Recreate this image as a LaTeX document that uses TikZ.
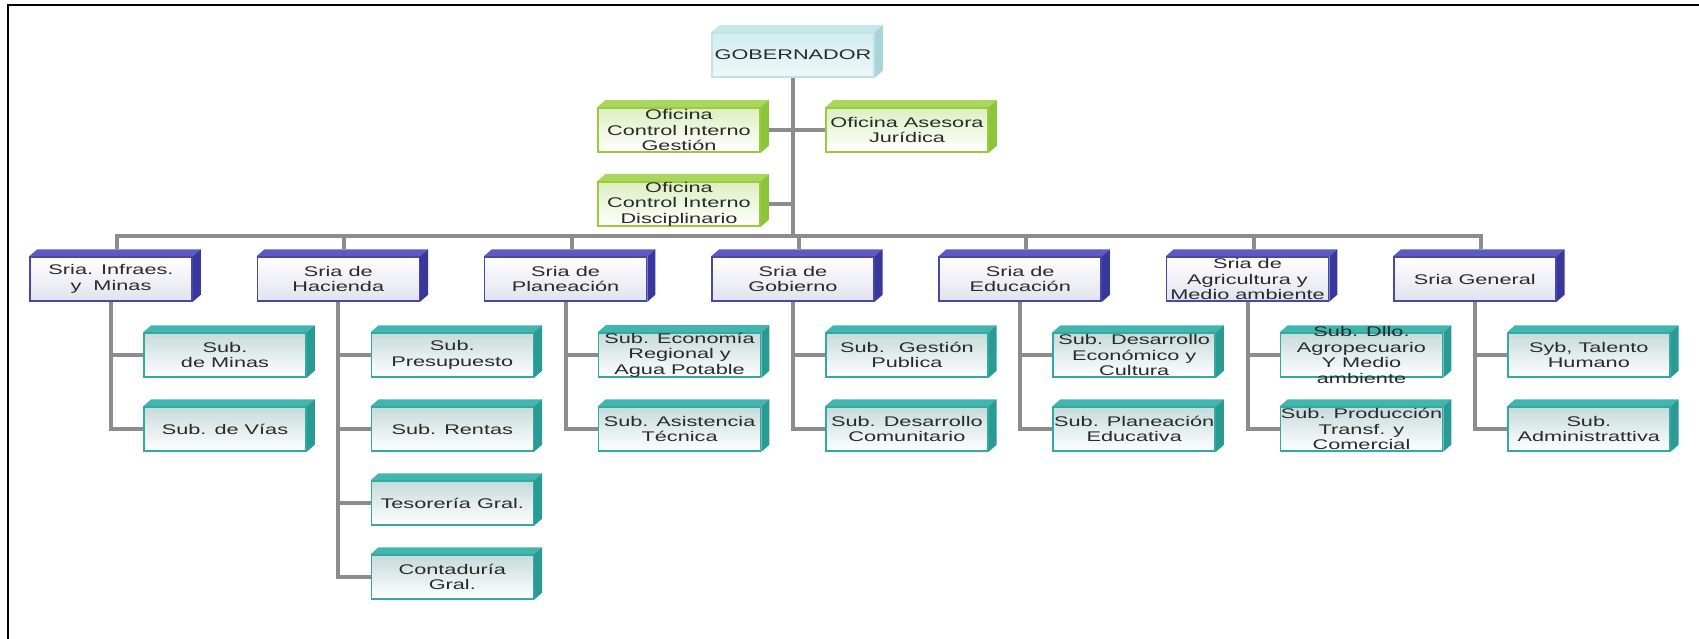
\documentclass[tikz,border=0pt]{standalone}
\usepackage{fontspec}
\newfontfamily\cajafont[FakeStretch=1.55]{Liberation Sans}
\usetikzlibrary{calc}
\pgfdeclarelayer{fondo}
\pgfdeclarelayer{caras}
\pgfsetlayers{fondo,caras,main}

\definecolor{gristexto}{HTML}{2A2A2A}
\definecolor{gris}{HTML}{8C8C8C}
\definecolor{cianborde}{HTML}{BFE3E7}
\definecolor{cianclaro}{HTML}{D3EDF0}
\definecolor{ciantop}{HTML}{C6E7EA}
\definecolor{cianlado}{HTML}{A9D5DA}
\definecolor{verdeborde}{HTML}{9ACB3C}
\definecolor{verdeclaro}{HTML}{DDEFC0}
\definecolor{verdetop}{HTML}{A9D65C}
\definecolor{verdelado}{HTML}{8CC43A}
\definecolor{azulborde}{HTML}{4848A8}
\definecolor{azulclaro}{HTML}{E2E2EE}
\definecolor{azultop}{HTML}{5B5BC2}
\definecolor{azullado}{HTML}{37379C}
\definecolor{tealborde}{HTML}{32A9A1}
\definecolor{tealclaro}{HTML}{C6DBDA}
\definecolor{tealtop}{HTML}{40B6AE}
\definecolor{teallado}{HTML}{2A9B94}

\tikzstyle{caja}=[rectangle,minimum width=162pt,minimum height=44pt,inner xsep=0pt,inner ysep=0pt,align=center,line width=1.5pt,text=gristexto,font=\cajafont\fontsize{14}{15.5}\selectfont]
\tikzstyle{jefe}=[caja,draw=cianborde,top color=cianclaro,bottom color=cianclaro!40]
\tikzstyle{oficina}=[caja,draw=verdeborde,top color=verdeclaro,bottom color=white]
\tikzstyle{sria}=[caja,draw=azulborde,top color=white,bottom color=azulclaro]
\tikzstyle{sub}=[caja,draw=tealborde,top color=tealclaro,bottom color=white]
\tikzstyle{conector}=[line width=4pt,gris]

% caras de arriba y del lado
\newcommand{\cubo}[3]{%
\begin{pgfonlayer}{caras}
\fill[#2] (#1.north west) -- ($(#1.north west)+(8,-7)$) -- ($(#1.north east)+(8,-7)$) -- (#1.north east) -- cycle;
\fill[#3] (#1.north east) -- ($(#1.north east)+(8,-7)$) -- ($(#1.south east)+(8,-7)$) -- (#1.south east) -- cycle;
\end{pgfonlayer}}

\begin{document}
\begin{tikzpicture}[x=1pt,y=-1pt]
\useasboundingbox (0,0) rectangle (1699,639);
\draw[line width=2.5pt] (8,639) -- (8,5) -- (1699,5);

\node[jefe] (gob) at (793,55) {GOBERNADOR};
\cubo{gob}{ciantop}{cianlado}
\node[oficina] (ocig) at (679,130) {Oficina\\Control Interno\\Gestión};
\node[oficina] (oaj) at (907,130) {Oficina Asesora\\Jurídica};
\node[oficina] (ocid) at (679,204) {Oficina\\Control Interno\\Disciplinario};
\foreach \n in {ocig,oaj,ocid}{\cubo{\n}{verdetop}{verdelado}}
\coordinate (bus) at (793,236);

\begin{pgfonlayer}{fondo}
\draw[conector] (gob.south) -- (bus);
\draw[conector] (ocig.east) -- (ocig -| bus);
\draw[conector] (oaj.west) -- (oaj -| bus);
\draw[conector] (ocid.east) -- (ocid -| bus);
\end{pgfonlayer}

\foreach \i/\texto in {1/{Sria. Infraes.\\y~~Minas},2/{Sria de\\Hacienda},3/{Sria de\\Planeación},4/{Sria de\\Gobierno},5/{Sria de\\Educación},6/{Sria de\\Agricultura y\\Medio ambiente},7/{Sria General}}{
	\node[sria] (s\i) at ({111+227.3*(\i-1)},279) {\texto};
	\cubo{s\i}{azultop}{azullado}
	\begin{pgfonlayer}{fondo}
	\draw[conector] ($(s\i.north)+(6,-7)$) |- (bus);
	\end{pgfonlayer}
}

\foreach \i/\j/\texto in {1/1/{Sub.\\de Minas},1/2/{Sub. de Vías},2/1/{Sub.\\Presupuesto},2/2/{Sub. Rentas},2/3/{Tesorería Gral.},2/4/{Contaduría\\Gral.},3/1/{Sub. Economía\\Regional y\\Agua Potable},3/2/{Sub. Asistencia\\Técnica},4/1/{Sub.~ Gestión\\Publica},4/2/{Sub. Desarrollo\\Comunitario},5/1/{Sub. Desarrollo\\Económico y\\Cultura},5/2/{Sub. Planeación\\Educativa},6/2/{Sub. Producción\\Transf. y\\Comercial},7/1/{Syb, Talento\\Humano},7/2/{Sub.\\Administrattiva}}{
	\node[sub] (s\i\j) at ({225+227.3*(\i-1)},{355+74*(\j-1)}) {\texto};
	\cubo{s\i\j}{tealtop}{teallado}
	\begin{pgfonlayer}{fondo}
	\draw[conector] (s\i.south) |- (s\i\j.west);
	\end{pgfonlayer}
}
\node[sub,inner ysep=-8pt] (s61) at ({225+227.3*5},355) {Sub. Dllo.\\Agropecuario\\Y Medio\\ambiente};
\cubo{s61}{tealtop}{teallado}
\begin{pgfonlayer}{fondo}
\draw[conector] (s6.south) |- (s61.west);
\end{pgfonlayer}
\end{tikzpicture}
\end{document}
